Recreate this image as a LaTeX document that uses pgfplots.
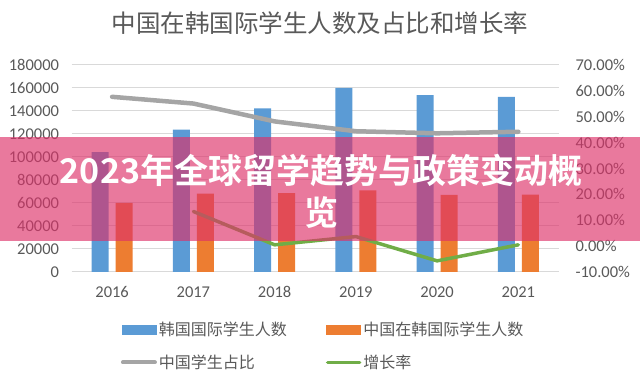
\documentclass[border=0pt]{standalone}
\usepackage{pgfplots}
\pgfplotsset{compat=1.18}
\usepackage{fontspec}
\setmainfont{Carlito}
\newfontfamily\cjk{Noto Sans CJK SC}
\newfontfamily\cjkb{Noto Sans CJK SC Bold}
\definecolor{txt}{RGB}{89,89,89}
\definecolor{cgrid}{RGB}{217,217,217}
\definecolor{cblue}{RGB}{91,155,213}
\definecolor{corange}{RGB}{237,125,49}
\definecolor{cgray}{RGB}{165,165,165}
\definecolor{cgreen}{RGB}{112,173,71}
\definecolor{cband}{RGB}{221,49,105}
\begin{document}
\begin{tikzpicture}
\path[use as bounding box] (0,0) rectangle (640bp,380bp);
\begin{axis}[
  at={(71.5bp,108bp)}, anchor=south west,
  scale only axis, width=487.5bp, height=207bp,
  xmin=-0.5, xmax=5.5, ymin=0, ymax=180000,
  xtick={0,...,5}, xticklabels={2016,2017,2018,2019,2020,2021},
  ytick={0,20000,...,180000},
  scaled y ticks=false,
  /pgf/number format/assume math mode=true,
  yticklabel={\pgfmathprintnumber[fixed,precision=0,1000 sep={}]{\tick}},
  axis x line*=bottom, axis y line*=left,
  y axis line style={draw=none},
  x axis line style={draw=cgrid, line width=1bp},
  major tick length=0pt,
  ymajorgrids, grid style={draw=cgrid, line width=1bp},
  tick label style={font=\fontsize{16.5bp}{20bp}\selectfont, text=txt},
  yticklabel style={xshift=-9bp},
  xticklabel style={yshift=-11bp},
  ybar, bar width=17bp,
]
\addplot[fill=cblue, draw=none, bar shift=-12bp] coordinates {(0,104262)(1,123858)(2,142205)(3,160165)(4,153695)(5,152281)};
\addplot[fill=corange, draw=none, bar shift=12bp] coordinates {(0,60136)(1,68184)(2,68537)(3,71067)(4,67030)(5,67348)};
\end{axis}
\begin{axis}[
  at={(71.5bp,108bp)}, anchor=south west,
  scale only axis, width=487.5bp, height=207bp,
  xmin=-0.5, xmax=5.5, ymin=-10, ymax=70,
  axis y line*=right, axis x line=none,
  y axis line style={draw=none},
  ytick={-10,0,...,70},
  major tick length=0pt,
  /pgf/number format/assume math mode=true,
  yticklabel={\pgfmathprintnumber[fixed,fixed zerofill,precision=2]{\tick}\%},
  tick label style={font=\fontsize{16.5bp}{20bp}\selectfont, text=txt},
  yticklabel style={xshift=13bp},
  legend columns=2,
  legend cell align=left,
  legend style={draw=none, fill=none, inner sep=0pt, at={(0.1010,-0.230)}, anchor=north west,
    font=\cjk\fontsize{16bp}{19bp}\selectfont, text=txt,
    nodes={inner sep=2bp},
    /tikz/every even column/.append style={column sep=37bp},
    /tikz/row sep=14bp},
]
\addlegendimage{legend image code/.code={\fill[cblue] (0bp,-4.5bp) rectangle (34bp,4.5bp);}}
\addlegendentry{韩国国际学生人数}
\addlegendimage{legend image code/.code={\fill[corange] (0bp,-4.5bp) rectangle (34bp,4.5bp);}}
\addlegendentry{中国在韩国际学生人数}
\addplot[cgray, line width=4.5bp, line join=round, line cap=round, mark=none,
  legend image code/.code={\draw[cgray, line width=4bp, line cap=round] (1bp,0bp) -- (33bp,0bp);}]
  coordinates {(0,57.7)(1,55.1)(2,48.2)(3,44.4)(4,43.6)(5,44.2)};
\addlegendentry{中国学生占比}
\addplot[cgreen, line width=3.5bp, line join=round, line cap=round, mark=none,
  legend image code/.code={\draw[cgreen, line width=3.5bp, line cap=round] (1bp,0bp) -- (33bp,0bp);}]
  coordinates {(1,13.4)(2,0.5)(3,3.7)(4,-5.7)(5,0.5)};
\addlegendentry{增长率}
\end{axis}
\node[font=\cjk\fontsize{24.5bp}{28bp}\selectfont, text=txt] at (320bp,357bp) {中国在韩国际学生人数及占比和增长率};
\fill[cband, opacity=0.65] (0bp,139bp) rectangle (640bp,243bp);
\node[font=\cjkb\fontsize{34bp}{42bp}\selectfont, text=white, align=center, inner sep=0pt] at (321bp,189bp) {2023年全球留学趋势与政策变动概\\览};
\end{tikzpicture}
\end{document}
